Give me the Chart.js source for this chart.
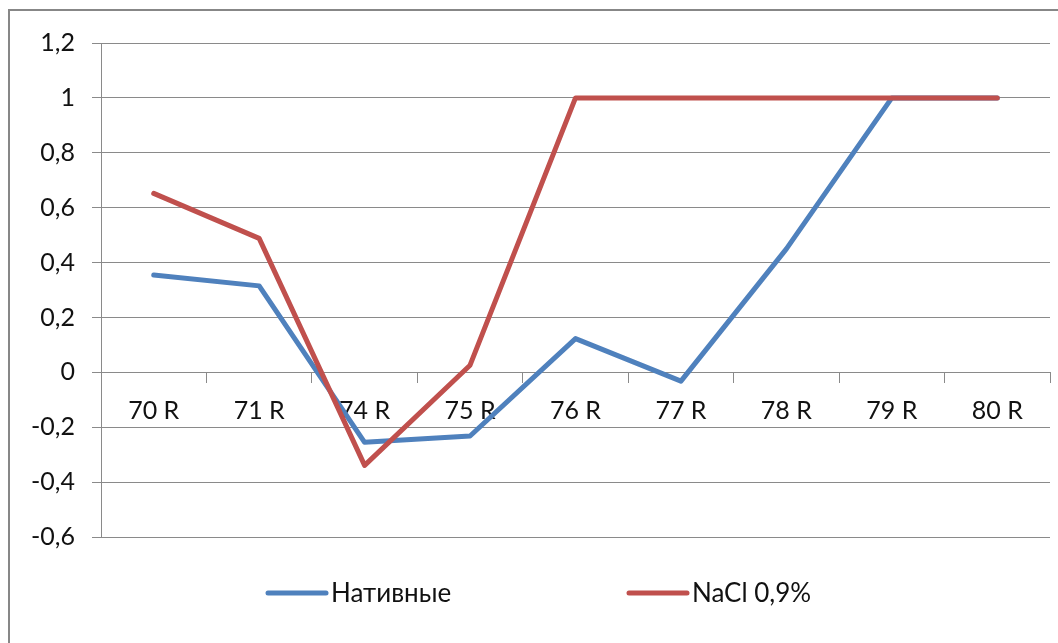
<!DOCTYPE html>
<html>
<head>
<meta charset="utf-8">
<script src="https://cdn.jsdelivr.net/npm/chart.js@4/dist/chart.umd.min.js"></script>
<style>
    html, body { margin: 0; padding: 0; background: #fff; }
    canvas { display: block; }
</style>
</head>
<body>
<canvas id="graph" width="1058" height="643"></canvas>
<script>
const categories = ['70 R', '71 R', '74 R', '75 R', '76 R', '77 R', '78 R', '79 R', '80 R'];
const nativeValues = [0.355, 0.315, -0.255, -0.232, 0.123, -0.032, 0.45, 1, 1];
const salineValues = [0.652, 0.488, -0.339, 0.026, 1, 1, 1, 1, 1];
const yTickLabels = ['-0,6', '-0,4', '-0,2', '0', '0,2', '0,4', '0,6', '0,8', '1', '1,2'];
const seriesNames = ['Нативные', 'NaCl 0,9%'];

const fontFamily = 'Lato, "Noto Sans", sans-serif';
const gridColor = '#8a8a8a';

// white page with the grey frame round the chart
const framePlugin = {
    id: 'frame',
    beforeDraw: function (chart) {
        const ctx = chart.ctx;
        ctx.save();
        ctx.fillStyle = '#fff';
        ctx.fillRect(0, 0, chart.width, chart.height);
        ctx.strokeStyle = '#878787';
        ctx.lineWidth = 2;
        ctx.strokeRect(9, 10, chart.width + 40, chart.height + 40);
        ctx.restore();
    }
};

// legend row under the plot: short line sample followed by the series name
const lineLegendPlugin = {
    id: 'lineLegend',
    afterDraw: function (chart, args, opts) {
        const ctx = chart.ctx;
        ctx.save();
        ctx.font = '26px ' + fontFamily;
        ctx.textBaseline = 'middle';
        ctx.textAlign = 'left';
        chart.data.datasets.forEach(function (ds, i) {
            const x = opts.itemX[i];
            ctx.strokeStyle = ds.borderColor;
            ctx.lineWidth = 5;
            ctx.lineCap = 'round';
            ctx.beginPath();
            ctx.moveTo(x, opts.y);
            ctx.lineTo(x + opts.sampleWidth, opts.y);
            ctx.stroke();
            ctx.fillStyle = '#111';
            ctx.fillText(ds.label, x + opts.sampleWidth + 5, opts.y + 1);
        });
        ctx.restore();
    }
};

const context = document.getElementById('graph');
new Chart(context, {
    type: 'line',
    data: {
        labels: categories,
        datasets: [
            {
                label: seriesNames[0],
                data: nativeValues,
                borderColor: '#4f81bd',
                backgroundColor: '#4f81bd',
                borderWidth: 5,
                borderJoinStyle: 'round',
                borderCapStyle: 'round',
                pointRadius: 0,
                tension: 0,
                order: 1
            },
            {
                label: seriesNames[1],
                data: salineValues,
                borderColor: '#c0504d',
                backgroundColor: '#c0504d',
                borderWidth: 5,
                borderJoinStyle: 'round',
                borderCapStyle: 'round',
                pointRadius: 0,
                tension: 0,
                order: 0
            }
        ]
    },
    options: {
        responsive: false,
        animation: false,
        devicePixelRatio: 1,
        layout: {
            padding: { left: 0, top: 43, right: 8, bottom: 106 }
        },
        plugins: {
            legend: { display: false },
            tooltip: { enabled: false },
            lineLegend: { itemX: [268, 629], y: 593, sampleWidth: 58 }
        },
        scales: {
            x: {
                position: { y: 0 },
                offset: true,
                grid: {
                    offset: true,
                    drawOnChartArea: false,
                    drawTicks: true,
                    tickLength: 10,
                    color: gridColor
                },
                border: { display: true, color: gridColor },
                ticks: {
                    padding: 14,
                    maxRotation: 0,
                    autoSkip: false,
                    color: '#111',
                    font: { family: fontFamily, size: 25 }
                }
            },
            y: {
                min: -0.6,
                max: 1.2,
                afterFit: function (scale) {
                    scale.width = 101;
                },
                grid: {
                    color: gridColor,
                    tickLength: 9
                },
                border: { display: true, color: gridColor },
                ticks: {
                    stepSize: 0.2,
                    padding: 17,
                    color: '#111',
                    font: { family: fontFamily, size: 25 },
                    callback: function (value, index) {
                        return yTickLabels[index];
                    }
                }
            }
        }
    },
    plugins: [framePlugin, lineLegendPlugin]
});
</script>
</body>
</html>
